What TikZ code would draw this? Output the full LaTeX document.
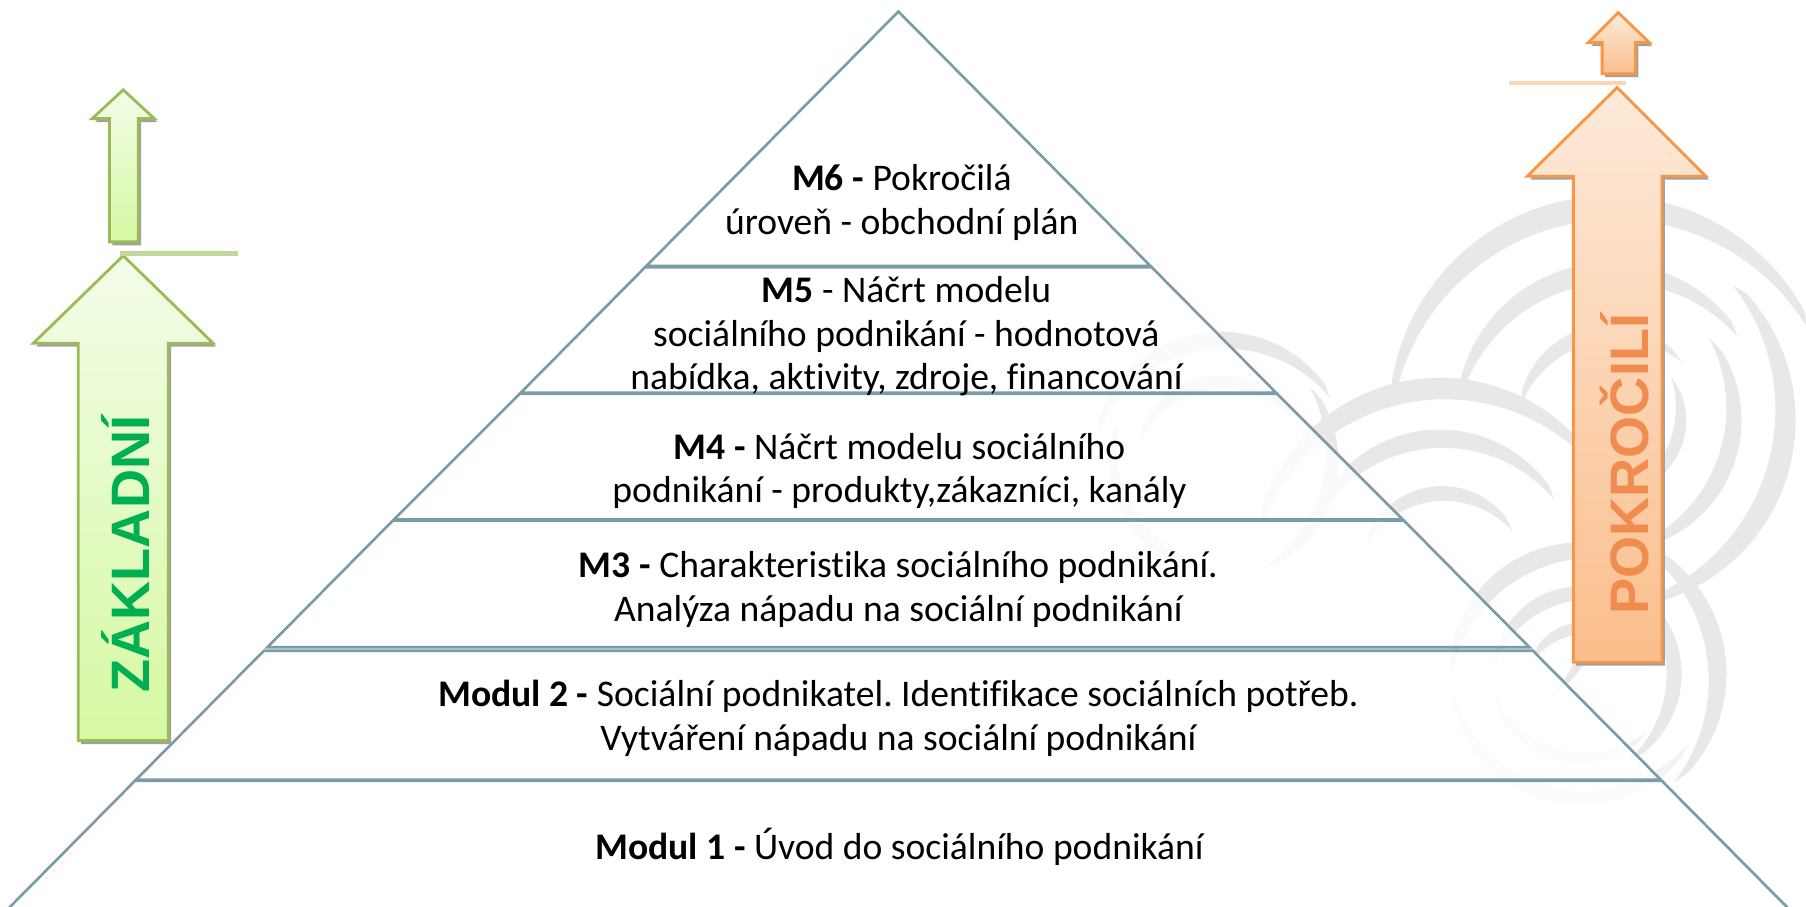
\documentclass[tikz,border=0pt]{standalone}
\usepackage{fontspec}
\setmainfont{Carlito}[Ligatures={NoCommon}]
\newfontfamily\labelfont{Liberation Sans}
\definecolor{pyr}{RGB}{123,156,167}
\definecolor{gEdge}{RGB}{155,187,89}
\definecolor{gTop}{RGB}{243,252,232}
\definecolor{gBot}{RGB}{214,249,163}
\definecolor{gLine}{RGB}{195,214,155}
\definecolor{gText}{RGB}{0,176,80}
\definecolor{oEdge}{RGB}{247,150,70}
\definecolor{oTop}{RGB}{253,234,218}
\definecolor{oBot}{RGB}{251,190,140}
\definecolor{oLine}{RGB}{252,213,181}
\definecolor{oText}{RGB}{240,140,80}
\definecolor{swc}{RGB}{232,232,232}
\definecolor{swf}{RGB}{243,243,243}
\definecolor{shad}{RGB}{160,160,160}
% crescent: [colour] cx cy r a1 a2 maxwidth
\newcommand\swirlarc[7][swc]{%
  \pgfmathsetmacro\swM{(#5+#6)/2}%
  \pgfmathsetmacro\swS{(#6-#5)/2}%
  \pgfmathsetmacro\swD{(0.8*#7)/(1-cos(\swS))}%
  \pgfmathsetmacro\swCx{#2-\swD*cos(\swM)}%
  \pgfmathsetmacro\swCy{#3-\swD*sin(\swM)}%
  \pgfmathsetmacro\swR{#4-#7+\swD}%
  \fill[#1] ({#2+#4*cos(#5)},{#3+#4*sin(#5)})
    arc[start angle=#5, end angle=#6, radius=#4]
    -- ({\swCx+\swR*cos(#6-4)},{\swCy+\swR*sin(#6-4)})
    arc[start angle=#6-4, end angle=#5+4, radius=\swR]
    -- cycle;}
\tikzset{
  layer/.style={draw=pyr, line width=0.75pt, fill=white, fill opacity=0.8, draw opacity=1},
  lbl/.style={align=center, font=\fontsize{10.7}{12.45}\selectfont, inner sep=0pt},
  biglbl/.style={rotate=90, font=\labelfont\bfseries\fontsize{15.4}{15.4}\selectfont, inner sep=0pt},
}
\frenchspacing
\begin{document}
\begin{tikzpicture}[x=0.011518cm,y=-0.011518cm]
\useasboundingbox (0,0) rectangle (1568,787);
\clip (0,0) rectangle (1568,787);
% background swirls: cluster A
\swirlarc{1398}{362}{192}{188}{332}{21}
\swirlarc{1398}{362}{134}{193}{322}{18}
\swirlarc{1398}{362}{80}{198}{312}{14}
\swirlarc{1395}{365}{164}{318}{437}{19}
\swirlarc{1398}{365}{114}{328}{432}{15}
\swirlarc{1400}{365}{64}{338}{422}{11}
% cluster B
\swirlarc{1250}{490}{162}{198}{324}{19}
\swirlarc{1250}{490}{117}{203}{324}{16}
\swirlarc{1252}{492}{70}{208}{322}{13}
\swirlarc{1250}{490}{152}{328}{402}{13}
% cluster C
\swirlarc{1372}{585}{114}{188}{302}{16}
\swirlarc{1372}{585}{76}{198}{302}{13}
\swirlarc{1372}{585}{44}{208}{302}{10}
\swirlarc{1372}{585}{127}{298}{402}{16}
\swirlarc{1372}{585}{88}{308}{412}{13}
\swirlarc[swf]{1372}{585}{114}{38}{167}{13}
\swirlarc[swf]{1372}{585}{78}{48}{162}{10}
% cluster D (behind pyramid)
\swirlarc{1060}{400}{112}{198}{324}{15}
\swirlarc{1060}{400}{74}{203}{322}{12}
\swirlarc{1060}{400}{102}{328}{422}{12}
\swirlarc{1060}{400}{97}{98}{192}{11}
% pyramid layers
\path[layer] (780,10) -- (998.9,231) -- (561.1,231) -- cycle;
\path[layer] (560.1,232) -- (999.9,232) -- (1107.9,341) -- (452.1,341) -- cycle;
\path[layer] (451.1,342) -- (1108.9,342) -- (1217.9,451) -- (342.1,451) -- cycle;
\path[layer] (341.1,452) -- (1218.9,452) -- (1327.9,562) -- (232.1,562) -- cycle;
\path[layer] (229.1,565) -- (1330.9,565) -- (1441.9,677) -- (118.1,677) -- cycle;
\path[layer] (117.1,678) -- (1442.9,678) -- (1563.8,800) -- (-3.8,800) -- cycle;
% pyramid texts
\node[lbl] (t6) at (783,176) {\textbf{M6 -} Pokročilá\\úroveň - obchodní plán};
\node[lbl] (t5) at (787,292) {\textbf{M5} - Náčrt modelu\\sociálního podnikání - hodnotová\\nabídka, aktivity, zdroje, financování};
\node[lbl] (t4) at (781,409) {\textbf{M4 -} Náčrt modelu sociálního\\podnikání - produkty,zákazníci, kanály};
\node[lbl] (t3) at (780,512) {\textbf{M3 -} Charakteristika sociálního podnikání.\\Analýza nápadu na sociální podnikání};
\node[lbl] (t2) at (780,624) {\textbf{Modul 2 -} Sociální podnikatel. Identifikace sociálních potřeb.\\Vytváření nápadu na sociální podnikání};
\node[lbl] (t1) at (781,735) {\textbf{Modul 1 -} Úvod do sociálního podnikání};
% green arrows
\begin{scope}[shift={(2.5,3)}]
\fill[shad] (107,222) -- (185,298) -- (146,298) -- (146,643) -- (68,643) -- (68,298) -- (29,298) -- cycle;
\fill[shad] (107,78) -- (134,103) -- (120,103) -- (120,210) -- (95,210) -- (95,103) -- (80,103) -- cycle;
\end{scope}
\draw[draw=gEdge, line width=0.8pt, top color=gTop, bottom color=gBot] (107,222) -- (185,298) -- (146,298) -- (146,643) -- (68,643) -- (68,298) -- (29,298) -- cycle;
\draw[draw=gEdge, line width=0.8pt, top color=gTop, bottom color=gBot] (107,78) -- (134,103) -- (120,103) -- (120,210) -- (95,210) -- (95,103) -- (80,103) -- cycle;
\draw[gLine, line width=1.3pt] (104,220) -- (207,220);
\node[biglbl, text=gText] (zak) at (109,481) {ZÁKLADNÍ};
% orange arrows
\begin{scope}[shift={(2.5,3)}]
\fill[shad] (1404,76) -- (1481,153) -- (1443,153) -- (1443,575) -- (1366,575) -- (1366,153) -- (1326,153) -- cycle;
\fill[shad] (1405,11) -- (1432,37) -- (1420,37) -- (1420,64) -- (1391,64) -- (1391,37) -- (1379,37) -- cycle;
\end{scope}
\draw[draw=oEdge, line width=0.8pt, top color=oTop, bottom color=oBot] (1404,76) -- (1481,153) -- (1443,153) -- (1443,575) -- (1366,575) -- (1366,153) -- (1326,153) -- cycle;
\draw[draw=oEdge, line width=0.8pt, top color=oTop, bottom color=oBot] (1405,11) -- (1432,37) -- (1420,37) -- (1420,64) -- (1391,64) -- (1391,37) -- (1379,37) -- cycle;
\draw[oLine, line width=1.3pt] (1310,72) -- (1412,72);
\node[biglbl, text=oText] (pok) at (1410,403) {POKROČILÍ};
\end{tikzpicture}
\end{document}
